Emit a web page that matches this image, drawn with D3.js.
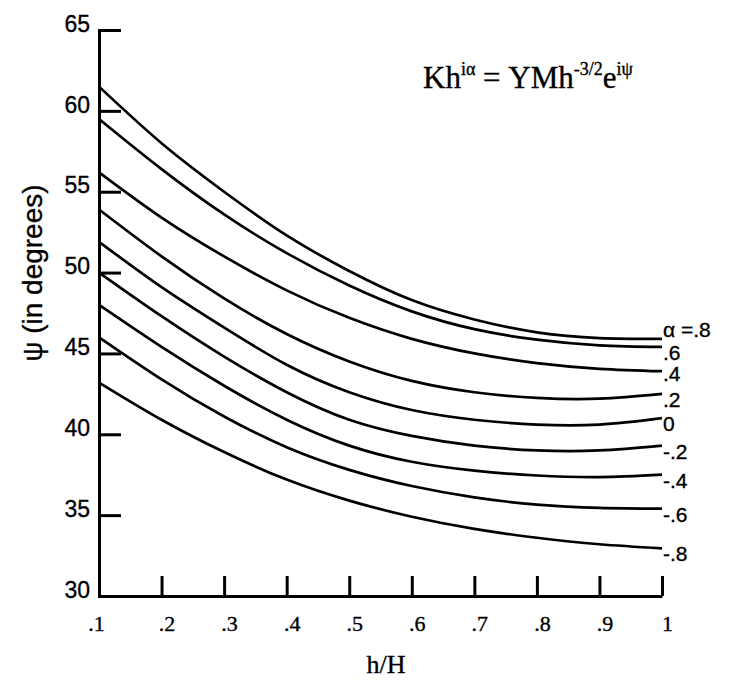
<!DOCTYPE html>
<meta charset="utf-8">
<style>

body { margin: 0; background: #fff; }

.axis path, .axis line {
  stroke: #000;
  stroke-width: 3px;
}

.curves path {
  fill: none;
  stroke: #000;
  stroke-width: 2.7px;
}

text { stroke: #000; stroke-width: 0.35px; }
.ylab { font-family: "Liberation Sans", sans-serif; font-size: 23px; }
.xlab { font-family: "Liberation Serif", serif; font-size: 22px; }

</style>
<svg width="741" height="683"></svg>
<script src="https://cdn.jsdelivr.net/npm/d3@7/dist/d3.min.js"></script>
<script>

// h/H positions where the curves were read
var hH = [0.1, 0.2, 0.3, 0.4, 0.5, 0.6, 0.7, 0.8, 0.9, 1.0];

// psi (degrees) for each alpha
var psiA08  = [61.5, 58.0, 55.0, 52.3, 50.1, 48.3, 47.1, 46.3, 45.95, 45.9];
var psiA06  = [59.5, 56.4, 53.6, 51.2, 49.2, 47.6, 46.5, 45.85, 45.5, 45.4];
var psiA04  = [56.2, 53.4, 51.0, 48.9, 47.2, 45.9, 45.0, 44.4, 44.05, 43.9];
var psiA02  = [53.9, 51.0, 48.4, 46.2, 44.5, 43.3, 42.6, 42.25, 42.2, 42.5];
var psiA00  = [51.9, 49.1, 46.6, 44.3, 42.6, 41.5, 40.9, 40.6, 40.6, 41.0];
var psiAm02 = [50.0, 47.3, 44.8, 42.6, 40.9, 39.9, 39.3, 39.0, 39.0, 39.3];
var psiAm04 = [48.0, 45.4, 43.0, 40.9, 39.3, 38.3, 37.75, 37.45, 37.35, 37.5];
var psiAm06 = [46.0, 43.4, 41.1, 39.2, 37.8, 36.8, 36.1, 35.65, 35.45, 35.4];
var psiAm08 = [43.2, 40.9, 38.9, 37.2, 35.9, 34.9, 34.15, 33.6, 33.2, 32.95];

var curveLabels = ["\u03b1 =.8", ".6", ".4", ".2", "0", "-.2", "-.4", "-.6", "-.8"];
var series = [psiA08, psiA06, psiA04, psiA02, psiA00, psiAm02, psiAm04, psiAm06, psiAm08];

var xTicks = [0.1, 0.2, 0.3, 0.4, 0.5, 0.6, 0.7, 0.8, 0.9, 1.0];
var xTickLabels = [".1", ".2", ".3", ".4", ".5", ".6", ".7", ".8", ".9", "1"];
var yTicks = [30, 35, 40, 45, 50, 55, 60, 65];

var svg = d3.select("svg");

var x = d3.scaleLinear().domain([0.1, 1]).range([99, 662]);
var y = d3.scaleLinear().domain([30, 65]).range([596, 30]);

var line = d3.line()
    .x(function(d, i) { return x(hH[i]); })
    .y(function(d) { return y(d); })
    .curve(d3.curveNatural);

svg.append("g")
    .attr("class", "curves")
  .selectAll("path")
  .data(series)
  .enter().append("path")
    .attr("d", line);

// x axis, ticks point up into the plot
var xAxis = svg.append("g")
    .attr("class", "axis")
    .attr("transform", "translate(0,596)")
    .call(d3.axisBottom(x)
        .tickValues(xTicks)
        .tickFormat(function(d, i) { return xTickLabels[i]; })
        .tickSizeInner(-20)
        .tickSizeOuter(0)
        .tickPadding(19));
xAxis.selectAll("text")
    .attr("class", "xlab")
    .attr("dx", 5)
    .attr("fill", "#000");
xAxis.select(".tick text").attr("dx", -3);

// y axis, ticks point right into the plot
var yAxis = svg.append("g")
    .attr("class", "axis")
    .attr("transform", "translate(99,0)")
    .call(d3.axisLeft(y)
        .tickValues(yTicks)
        .tickSizeInner(-22)
        .tickSizeOuter(0)
        .tickPadding(9));
yAxis.selectAll("text")
    .attr("class", "ylab")
    .attr("dy", "0.05em")
    .attr("fill", "#000");
yAxis.select(".domain").attr("stroke-linecap", "square");

// curve labels at the right end
svg.append("g")
  .selectAll("text")
  .data(series)
  .enter().append("text")
    .attr("class", "ylab")
    .style("font-size", "21px")
    .attr("x", 663)
    .attr("y", function(d, i) { return y(d[d.length - 1]) + (i === 0 ? -2 : i === 2 ? 10 : 13); })
    .text(function(d, i) { return curveLabels[i]; });

// axis titles
svg.append("text")
    .attr("class", "xlab")
    .style("font-size", "26px")
    .attr("x", 386)
    .attr("y", 673)
    .attr("text-anchor", "middle")
    .text("h/H");

svg.append("text")
    .attr("class", "ylab")
    .style("font-size", "28px")
    .attr("transform", "translate(42,273) rotate(-90)")
    .attr("text-anchor", "middle")
    .text("\u03c8 (in degrees)");

// formula
var f = svg.append("text")
    .attr("class", "xlab")
    .style("font-size", "31px")
    .attr("x", 423)
    .attr("y", 88);
f.append("tspan").text("Kh");
f.append("tspan").attr("dy", -13).style("font-size", "18px").text("i\u03b1");
f.append("tspan").attr("dy", 13).text(" = YMh");
f.append("tspan").attr("dy", -13).style("font-size", "18px").text("-3/2");
f.append("tspan").attr("dy", 13).text("e");
f.append("tspan").attr("dy", -13).style("font-size", "18px").text("i\u03c8");

</script>
